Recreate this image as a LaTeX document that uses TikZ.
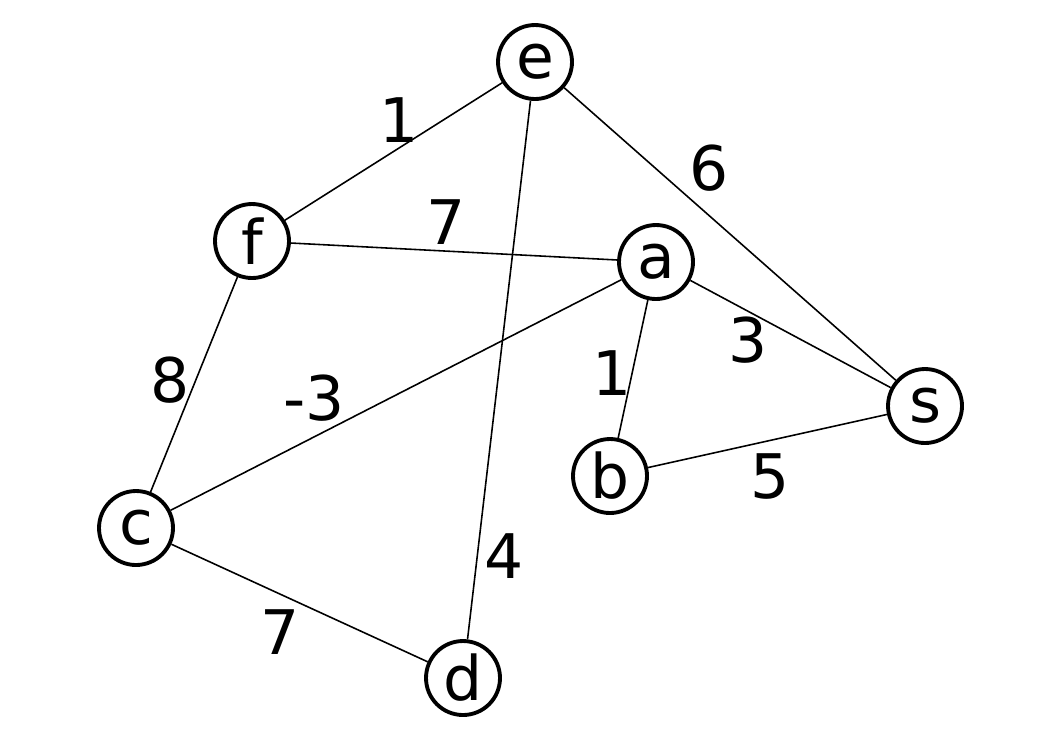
\documentclass[tikz,border=0pt]{standalone}
\usepackage{fontspec}
\setmainfont{DejaVu Sans}
\usepackage{tikz}

\begin{document}
\begin{tikzpicture}[x=0.02cm, y=-0.02cm,
  vertex/.style={circle, draw, line width=2.2pt, minimum size=1.48cm,
    inner sep=0pt, font=\fontsize{35}{40}\selectfont},
  weight/.style={inner sep=0pt, font=\fontsize{35}{40}\selectfont},
  edge/.style={line width=0.9pt}]

  \useasboundingbox (0,0) rectangle (1053,745);

  % vertices
  \node[vertex] (e) at (535,62) {e};
  \node[vertex] (f) at (252,241) {f};
  \node[vertex] (a) at (656,262) {a};
  \node[vertex] (s) at (925,406) {s};
  \node[vertex] (b) at (610,476) {b};
  \node[vertex] (c) at (136,528) {c};
  \node[vertex] (d) at (463,678) {d};

  % edges
  \draw[edge] (e) -- (f);
  \draw[edge] (e) -- (s);
  \draw[edge] (e) -- (d);
  \draw[edge] (f) -- (a);
  \draw[edge] (f) -- (c);
  \draw[edge] (a) -- (c);
  \draw[edge] (a) -- (s);
  \draw[edge] (a) -- (b);
  \draw[edge] (b) -- (s);
  \draw[edge] (c) -- (d);

  % weights
  \node[weight] (wef) at (399,120) {1};
  \node[weight] (wes) at (709,168) {6};
  \node[weight] (wfa) at (446,222) {7};
  \node[weight] (was) at (748,340) {3};
  \node[weight] (wab) at (612,373) {1};
  \node[weight] (wfc) at (170,380) {8};
  \node[weight] (wac) at (314,398) {-3};
  \node[weight] (wbs) at (770,477) {5};
  \node[weight] (wed) at (504,556) {4};
  \node[weight] (wcd) at (280,632) {7};

\end{tikzpicture}
\end{document}
